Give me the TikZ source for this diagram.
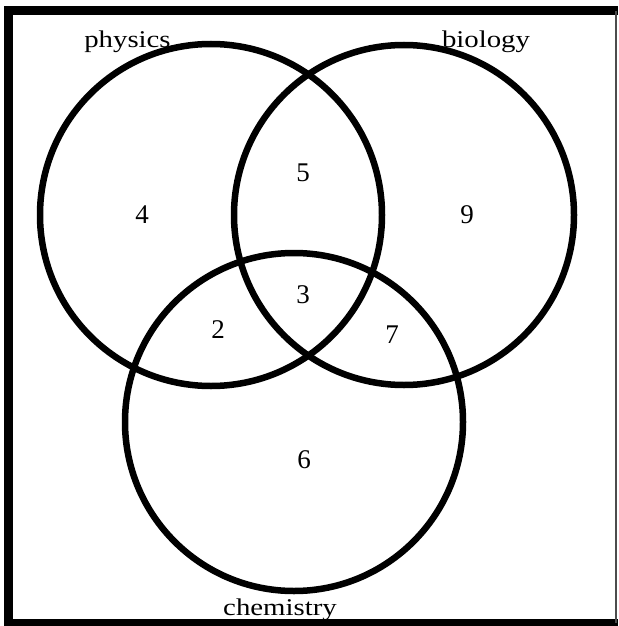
\documentclass[tikz,border=0pt]{standalone}
\usepackage{fontspec}
\setmainfont{Liberation Serif}
\newfontfamily\setnamefont[FakeStretch=1.2]{Liberation Serif}
\usetikzlibrary{positioning}
\tikzset{
  vennset/.style={draw=black, line width=6.5pt},
  setname/.style={anchor=base, inner sep=0pt, font=\setnamefont\fontsize{24}{24}\selectfont},
  count/.style={inner sep=0pt, font=\fontsize{27}{27}\selectfont},
}

\begin{document}
\begin{tikzpicture}[x=1pt,y=-1pt]
  \useasboundingbox (0,0) rectangle (618,626);
  % centres of the three sets
  \coordinate (phys) at (211,215);
  \coordinate (bio) at (404,215);
  \coordinate (chem) at (294,422);
  \draw[vennset] (phys) circle[radius=171pt];
  \draw[vennset] (bio) circle[radius=170pt];
  \draw[vennset] (chem) circle[radius=169pt];
  % set names
  \node[setname] (physlabel) at (127.5,48) {physics};
  \node[setname] (biolabel) at (486,48) {biology};
  \node[setname] (chemlabel) at (280,615) {chemistry};
  % counts in each region
  \node[count] (onlyphys) at (142,215) {4};
  \node[count] (physbio) at (303,173) {5};
  \node[count] (onlybio) at (467,215) {9};
  \node[count] (all) at (303,295) {3};
  \node[count] (physchem) at (218,330) {2};
  \node[count] (biochem) at (392,335) {7};
  \node[count] (onlychem) at (304,460) {6};
  % frame
  \draw[line width=9pt] (618,11) -- (8.5,11) -- (8.5,623) -- (618,623);
  \draw[line width=1.2pt, black!70] (616,11) -- (616,623);
\end{tikzpicture}
\end{document}
